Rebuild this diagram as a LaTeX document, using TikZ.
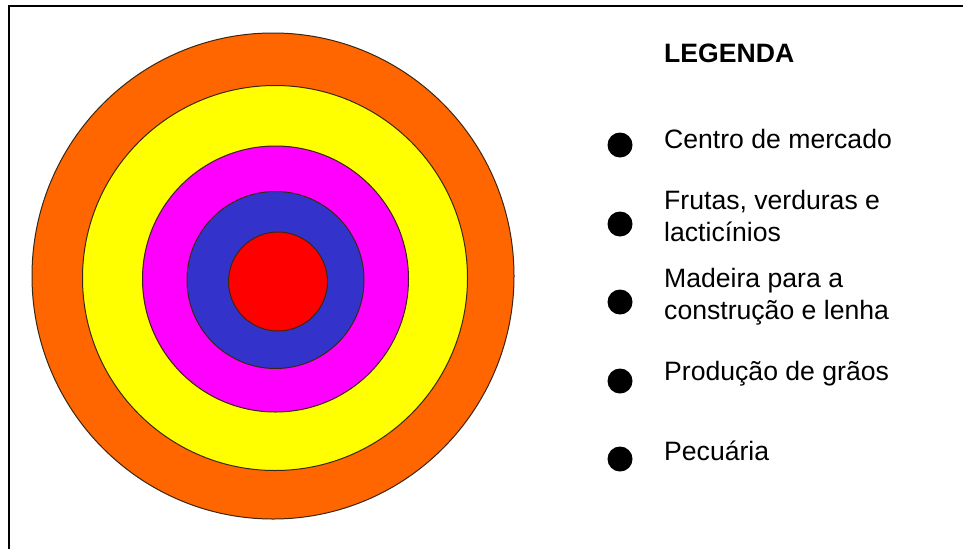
\documentclass[tikz,border=0pt]{standalone}
\usepackage{fontspec}
\setmainfont{Liberation Sans}
\begin{document}
\begin{tikzpicture}[x=1pt,y=-1pt,
  ring/.style={draw=black!70!brown, line width=1pt},
  bullet/.style={circle, fill=black, inner sep=0pt, minimum size=25pt},
  legtext/.style={anchor=base west, inner sep=0pt, align=left, font=\fontsize{26.6}{31.5}\selectfont},
  frame/.style={line width=2.2pt}]
\useasboundingbox (0,0) rectangle (963,549);
\definecolor{cOrange}{HTML}{FF6600}
\definecolor{cYellow}{HTML}{FFFF00}
\definecolor{cMagenta}{HTML}{FF00FF}
\definecolor{cBlue}{HTML}{3333CC}
\definecolor{cRed}{HTML}{FF0000}
% frame (top and left edges)
\coordinate (fr) at (963,6);
\coordinate (fc) at (9,6);
\coordinate (fb) at (9,549);
\draw[frame] (fr) -- (fc) -- (fb);
% rings
\fill[cOrange, ring] (273,276) ellipse (241 and 243);
\fill[cYellow, ring] (275,278) circle (192.5);
\fill[cMagenta, ring] (275.5,279) circle (133);
\fill[cBlue, ring] (275.5,280) circle (88.5);
\fill[cRed, ring] (278,281.5) circle (49.5);
% legend
\node[legtext, font=\bfseries\fontsize{26.6}{32}\selectfont] (title) at (664,62) {LEGENDA};
\node[bullet] (b1) at (620,145) {};
\node[legtext] (t1) at (664,148) {Centro de mercado};
\node[bullet] (b2) at (620,224) {};
\node[legtext] (t2) at (664,241) {Frutas, verduras e\\lacticínios};
\node[bullet] (b3) at (620,302) {};
\node[legtext] (t3) at (664,319) {Madeira para a\\construção e lenha};
\node[bullet] (b4) at (620,381) {};
\node[legtext] (t4) at (664,380) {Produção de grãos};
\node[bullet] (b5) at (620,459) {};
\node[legtext] (t5) at (664,460) {Pecuária};
\end{tikzpicture}
\end{document}
